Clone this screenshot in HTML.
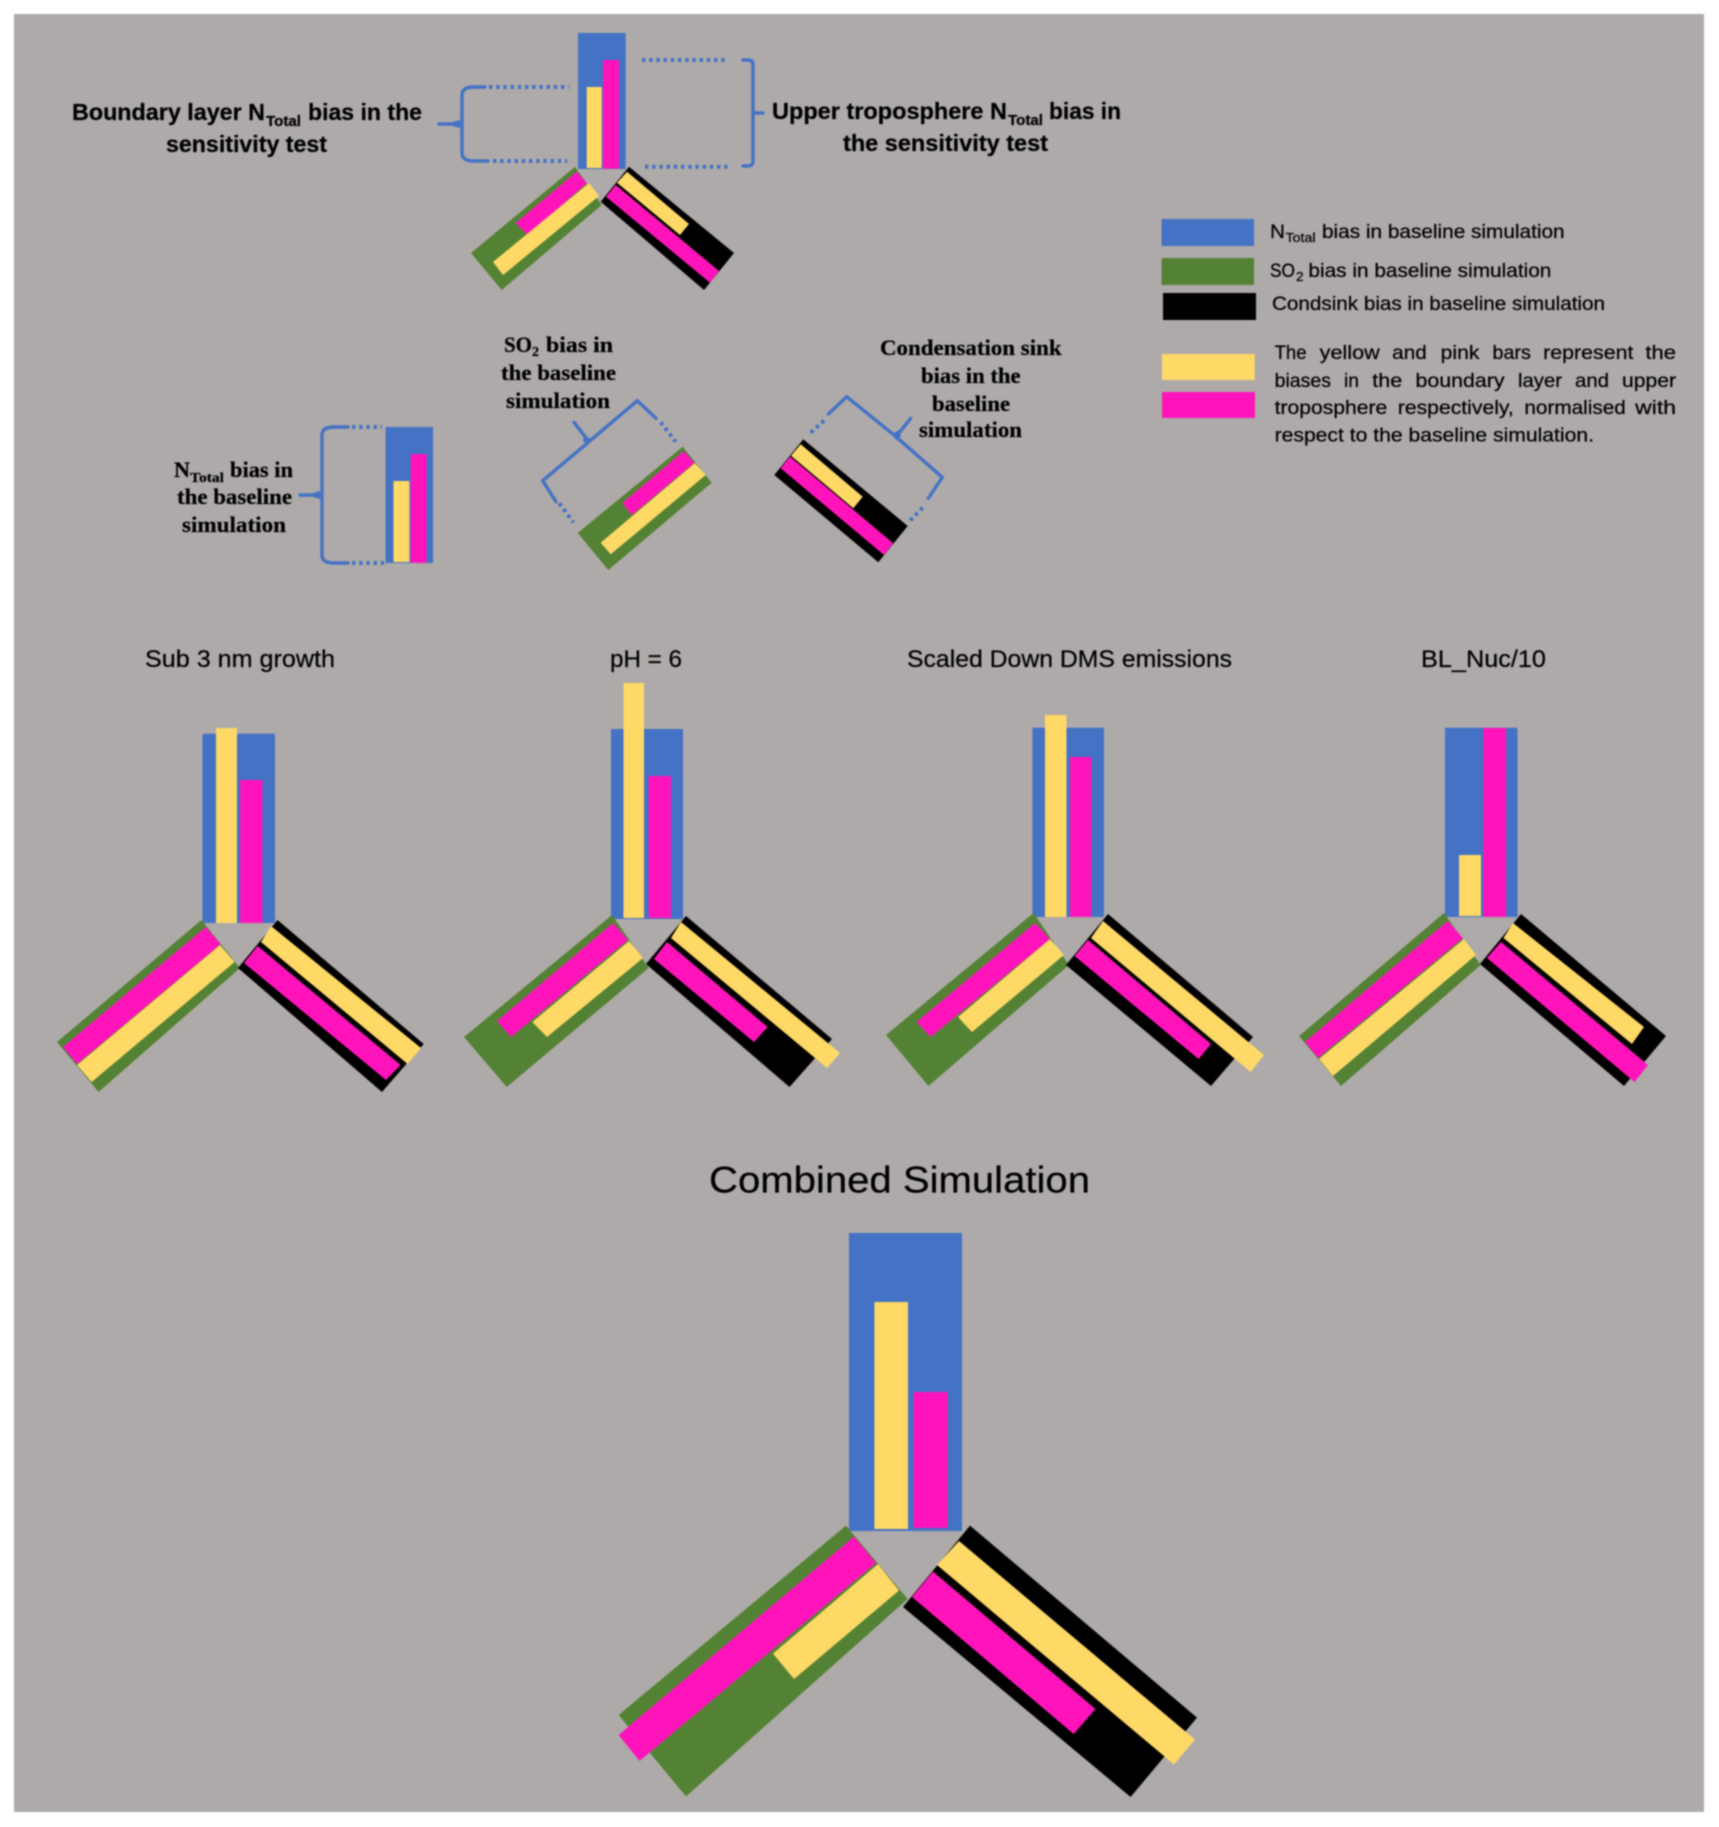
<!DOCTYPE html>
<html><head><meta charset="utf-8"><style>
html,body{margin:0;padding:0;background:#fff}
svg{display:block;filter:blur(.7px)}
.b{fill:#4472c4}.g{fill:#548235}.y{fill:#ffd966}.p{fill:#ff14bb}.k{fill:#000}
text{fill:#000;stroke:#000;stroke-width:.25}
.bd{font-family:"Liberation Sans",sans-serif;font-weight:bold;font-size:23.5px}
.bs{font-family:"Liberation Sans",sans-serif;font-weight:bold;font-size:15px}
.t{font-family:"Liberation Serif",serif;font-weight:bold;font-size:22px}
.ts{font-family:"Liberation Serif",serif;font-weight:bold;font-size:14px}
.l{font-family:"Liberation Sans",sans-serif;font-size:19.5px}
.ls{font-family:"Liberation Sans",sans-serif;font-size:13px}
.h{font-family:"Liberation Sans",sans-serif;font-size:24.5px}
.br{fill:none;stroke:#4472c4;stroke-width:3.4;stroke-linejoin:round;stroke-linecap:round}
.dt{fill:none;stroke:#4472c4;stroke-width:4;stroke-dasharray:3.4 3.8}
.wd{fill:#4472c4}
</style></head><body>
<svg xmlns="http://www.w3.org/2000/svg" width="1719" height="1827" viewBox="0 0 1719 1827">
<rect width="1719" height="1827" fill="#fff"/>
<rect x="14" y="14" width="1690" height="1798" fill="#aeaaa9"/>

<!-- top glyph -->
<rect class="b" x="578" y="33" width="47.7" height="136"/>
<rect class="y" x="586.7" y="87" width="15" height="81"/>
<rect class="p" x="603" y="60" width="16" height="108.7"/>
<polygon class="g" points="575,166.7 601.7,205 501.7,290 471,253"/>
<polygon class="p" points="576.7,171.7 587,183 527.7,235 515.7,223"/>
<polygon class="y" points="589,183 599,196 503,275 493,262"/>
<polygon class="k" points="629,166.7 734,253 704,290 600.7,201.7"/>
<polygon class="y" points="627,171.7 689,224 680,235 617,182.7"/>
<polygon class="p" points="615.7,185 719,271 710,282.7 606,196.7"/>

<!-- top braces -->
<path class="br" d="M439,124 H462 M462,95 V153 M462,95 Q462,87 474,87 H485 M462,153 Q462,161 474,161 H488"/>
<polygon class="wd" points="452,122 460,120 460,128 452,126"/>
<path class="dt" d="M489,87 H569 M493,161 H567"/>
<path class="br" d="M743,60 H748 Q753,60 753,65 V161 Q753,166 748,166 H743 M753,113 H763"/>
<path class="dt" d="M642,60 H728 M645,166.7 H731"/>

<text class="bd" x="72" y="120" textLength="193" lengthAdjust="spacingAndGlyphs">Boundary layer N</text>
<text class="bs" x="266" y="126" textLength="35" lengthAdjust="spacingAndGlyphs">Total</text>
<text class="bd" x="308" y="120" textLength="114" lengthAdjust="spacingAndGlyphs">bias in the</text>
<text class="bd" x="166" y="152" textLength="161" lengthAdjust="spacingAndGlyphs">sensitivity test</text>
<text class="bd" x="772" y="119" textLength="235" lengthAdjust="spacingAndGlyphs">Upper troposphere N</text>
<text class="bs" x="1008" y="125" textLength="35" lengthAdjust="spacingAndGlyphs">Total</text>
<text class="bd" x="1049" y="119" textLength="72" lengthAdjust="spacingAndGlyphs">bias in</text>
<text class="bd" x="843" y="151" textLength="205" lengthAdjust="spacingAndGlyphs">the sensitivity test</text>

<!-- middle row -->
<rect class="b" x="385.6" y="427" width="47.4" height="136"/>
<rect class="y" x="393.5" y="481" width="15.9" height="81"/>
<rect class="p" x="410.7" y="454" width="15.9" height="109"/>
<path class="br" d="M300,495 H322 M322,435 V555 M322,435 Q322,427 334,427 H348 M322,555 Q322,563 334,563 H348"/>
<polygon class="wd" points="313,493 320,491 320,499 313,497"/>
<path class="dt" d="M352,427 H382 M352,563 H384"/>

<polygon class="g" points="682.7,446.7 711.7,482.7 608.3,570 577.7,533"/>
<polygon class="p" points="684,451 694.3,463 631.7,515 622.3,503"/>
<polygon class="y" points="695,463 705.7,475 610.7,554.3 600.7,542.7"/>
<path class="br" d="M656,418.3 L637.3,400.7 L589,441.7 L542.7,480.7 L556,501.7 M574,422.3 L589,441.7"/>
<polygon class="wd" points="584,436 592,439 588,444 583,441"/>
<path class="dt" d="M660.7,422.3 L675.7,441.7 M559.3,503.3 L573.3,522.3"/>

<polygon class="k" points="803.3,439.3 907.7,526 878.3,562.3 774.3,475"/>
<polygon class="y" points="800.7,444.3 862.7,496.7 853.3,508.3 791,455.7"/>
<polygon class="p" points="790,456.7 893.3,543.3 884,555 780.7,468.3"/>
<path class="br" d="M828.3,414 L846.7,396.7 L896,436.7 L942.3,477.3 L928.3,498.3 M910.7,418.3 L896,436.7"/>
<polygon class="wd" points="892,434 899,430 901,436 896,440"/>
<path class="dt" d="M824,420.7 L810,433.3 M922.7,507.7 L910,520.7"/>

<text class="t" x="504" y="352" textLength="28" lengthAdjust="spacingAndGlyphs">SO</text>
<text class="ts" x="532" y="356" textLength="7" lengthAdjust="spacingAndGlyphs">2</text>
<text class="t" x="546" y="352" textLength="67" lengthAdjust="spacingAndGlyphs">bias in</text>
<text class="t" x="501" y="380" textLength="115" lengthAdjust="spacingAndGlyphs">the baseline</text>
<text class="t" x="506" y="408" textLength="104" lengthAdjust="spacingAndGlyphs">simulation</text>
<text class="t" x="880" y="355" textLength="181.6" lengthAdjust="spacingAndGlyphs">Condensation sink</text>
<text class="t" x="921" y="383" textLength="99.6" lengthAdjust="spacingAndGlyphs">bias in the</text>
<text class="t" x="932" y="411" textLength="78" lengthAdjust="spacingAndGlyphs">baseline</text>
<text class="t" x="919" y="437" textLength="103" lengthAdjust="spacingAndGlyphs">simulation</text>
<text class="t" x="174" y="477" textLength="16" lengthAdjust="spacingAndGlyphs">N</text>
<text class="ts" x="190" y="482" textLength="34" lengthAdjust="spacingAndGlyphs">Total</text>
<text class="t" x="230" y="477" textLength="63" lengthAdjust="spacingAndGlyphs">bias in</text>
<text class="t" x="177" y="504" textLength="115" lengthAdjust="spacingAndGlyphs">the baseline</text>
<text class="t" x="182" y="532" textLength="104" lengthAdjust="spacingAndGlyphs">simulation</text>

<!-- legend -->
<rect class="b" x="1161.6" y="219" width="92.4" height="27"/>
<rect class="g" x="1161.6" y="258" width="92.4" height="27"/>
<rect class="k" x="1163" y="293" width="93" height="27"/>
<rect class="y" x="1162" y="354" width="92.7" height="26"/>
<rect class="p" x="1162" y="392" width="93" height="26"/>
<text class="l" x="1270" y="238" textLength="15" lengthAdjust="spacingAndGlyphs">N</text>
<text class="ls" x="1285.5" y="242" textLength="30" lengthAdjust="spacingAndGlyphs">Total</text>
<text class="l" x="1322" y="238" textLength="242.6" lengthAdjust="spacingAndGlyphs">bias in baseline simulation</text>
<text class="l" x="1270" y="277" textLength="25" lengthAdjust="spacingAndGlyphs">SO</text>
<text class="ls" x="1296" y="281" textLength="7.5" lengthAdjust="spacingAndGlyphs">2</text>
<text class="l" x="1308.4" y="277" textLength="243" lengthAdjust="spacingAndGlyphs">bias in baseline simulation</text>
<text class="l" x="1272" y="310" textLength="333" lengthAdjust="spacingAndGlyphs">Condsink bias in baseline simulation</text>

<text class="l" x="1274.6" y="359" textLength="32" lengthAdjust="spacingAndGlyphs">The</text>
<text class="l" x="1319.7" y="359" textLength="60" lengthAdjust="spacingAndGlyphs">yellow</text>
<text class="l" x="1392.2" y="359" textLength="34.6" lengthAdjust="spacingAndGlyphs">and</text>
<text class="l" x="1440.7" y="359" textLength="38.7" lengthAdjust="spacingAndGlyphs">pink</text>
<text class="l" x="1492.5" y="359" textLength="38.3" lengthAdjust="spacingAndGlyphs">bars</text>
<text class="l" x="1543.2" y="359" textLength="90.2" lengthAdjust="spacingAndGlyphs">represent</text>
<text class="l" x="1645.4" y="359" textLength="30.6" lengthAdjust="spacingAndGlyphs">the</text>

<text class="l" x="1274.6" y="387" textLength="56.4" lengthAdjust="spacingAndGlyphs">biases</text>
<text class="l" x="1344" y="387" textLength="15" lengthAdjust="spacingAndGlyphs">in</text>
<text class="l" x="1372.3" y="387" textLength="30" lengthAdjust="spacingAndGlyphs">the</text>
<text class="l" x="1415.5" y="387" textLength="89" lengthAdjust="spacingAndGlyphs">boundary</text>
<text class="l" x="1518" y="387" textLength="44" lengthAdjust="spacingAndGlyphs">layer</text>
<text class="l" x="1575" y="387" textLength="34" lengthAdjust="spacingAndGlyphs">and</text>
<text class="l" x="1622" y="387" textLength="54" lengthAdjust="spacingAndGlyphs">upper</text>

<text class="l" x="1274.6" y="414" textLength="112.7" lengthAdjust="spacingAndGlyphs">troposphere</text>
<text class="l" x="1397.8" y="414" textLength="116" lengthAdjust="spacingAndGlyphs">respectively,</text>
<text class="l" x="1524.4" y="414" textLength="101.4" lengthAdjust="spacingAndGlyphs">normalised</text>
<text class="l" x="1635.2" y="414" textLength="40.8" lengthAdjust="spacingAndGlyphs">with</text>

<text class="l" x="1274.6" y="441.5" textLength="319.4" lengthAdjust="spacingAndGlyphs">respect to the baseline simulation.</text>

<!-- titles -->
<text class="h" x="145" y="667" textLength="190" lengthAdjust="spacingAndGlyphs">Sub 3 nm growth</text>
<text class="h" x="610" y="667" textLength="72" lengthAdjust="spacingAndGlyphs">pH = 6</text>
<text class="h" x="907" y="667" textLength="325" lengthAdjust="spacingAndGlyphs">Scaled Down DMS emissions</text>
<text class="h" x="1421" y="667" textLength="125" lengthAdjust="spacingAndGlyphs">BL_Nuc/10</text>

<!-- panel A -->
<rect class="b" x="202.5" y="733.7" width="72.5" height="189.3"/>
<rect class="y" x="216" y="728" width="21" height="195"/>
<rect class="p" x="240" y="780" width="22.5" height="143"/>
<polygon class="g" points="201.4,920 240,968 98.6,1092 57,1042"/>
<polygon class="p" points="205.7,927 220.7,944 77,1064 63,1047"/>
<polygon class="y" points="220,945 234.6,962 91.6,1082 77,1065"/>
<polygon class="k" points="277.5,920 423.7,1044 382,1092 238,968"/>
<polygon class="y" points="271,926 421,1048 407.6,1064 261,942"/>
<polygon class="p" points="257.6,946 400.6,1065 386,1080 244,963"/>

<!-- panel B -->
<rect class="b" x="611" y="729" width="72" height="190"/>
<rect class="y" x="623.5" y="683" width="20.5" height="235"/>
<rect class="p" x="648.6" y="776" width="22.4" height="142"/>
<polygon class="g" points="612,915 648.6,968 506.7,1087 464,1037"/>
<polygon class="p" points="613,923 628,940 511,1037 497,1021"/>
<polygon class="y" points="629,941 643,958 547,1037 532.4,1022"/>
<polygon class="k" points="686,916 832,1039 789.5,1087 646,964"/>
<polygon class="y" points="681,922 840,1053 827,1068 671,938"/>
<polygon class="p" points="667,942 767.6,1027 754,1042 654,959"/>

<!-- panel C -->
<rect class="b" x="1032.4" y="727.7" width="71.6" height="189.3"/>
<rect class="y" x="1045" y="715" width="21.5" height="202"/>
<rect class="p" x="1070" y="757" width="21.4" height="160"/>
<polygon class="g" points="1033.5,913 1069,965 928.5,1086 886,1035"/>
<polygon class="p" points="1035,923 1050,939 930.6,1037 916.6,1022"/>
<polygon class="y" points="1050,939 1064,955 972,1032 958,1017"/>
<polygon class="k" points="1108,914 1253,1037 1211,1086 1066,965"/>
<polygon class="y" points="1103,921 1264,1055 1250.6,1072 1091,938"/>
<polygon class="p" points="1088,940 1211,1044 1198.6,1059 1074.6,956"/>

<!-- panel D -->
<rect class="b" x="1445" y="727.7" width="72.5" height="189.3"/>
<rect class="y" x="1459" y="855" width="22" height="61"/>
<rect class="p" x="1483.4" y="728" width="22.6" height="189"/>
<polygon class="g" points="1444,913 1480.7,965 1341,1086 1299,1036"/>
<polygon class="p" points="1447.7,921 1463,938 1318,1058 1305,1042"/>
<polygon class="y" points="1464,939 1476,955 1333,1076 1319,1059"/>
<polygon class="k" points="1521,914 1666,1036 1624,1086 1480,964"/>
<polygon class="y" points="1513,923 1644,1027 1632,1044 1503.5,938"/>
<polygon class="p" points="1501,942 1648,1065 1634.5,1082 1487,958"/>

<!-- combined -->
<text class="h" style="font-size:37px" x="709" y="1192.5" textLength="381" lengthAdjust="spacingAndGlyphs">Combined Simulation</text>
<rect class="b" x="849" y="1233" width="113" height="298"/>
<rect class="y" x="874.4" y="1302" width="33.6" height="227"/>
<rect class="p" x="913.6" y="1392" width="34" height="136"/>
<polygon class="g" points="846,1525.6 907.6,1599 686,1796.5 618.6,1715"/>
<polygon class="p" points="854,1536.6 876,1563 639.5,1761 618.6,1735"/>
<polygon class="y" points="878,1564 899,1590.5 794,1679 773,1653.6"/>
<polygon class="k" points="970,1525.6 1197,1717.6 1130.6,1797 903,1607"/>
<polygon class="y" points="959,1541 1195,1739.5 1174,1764.5 937,1565"/>
<polygon class="p" points="933,1571.6 1095.5,1709 1073.7,1734 912,1597"/>
</svg>
</body></html>
